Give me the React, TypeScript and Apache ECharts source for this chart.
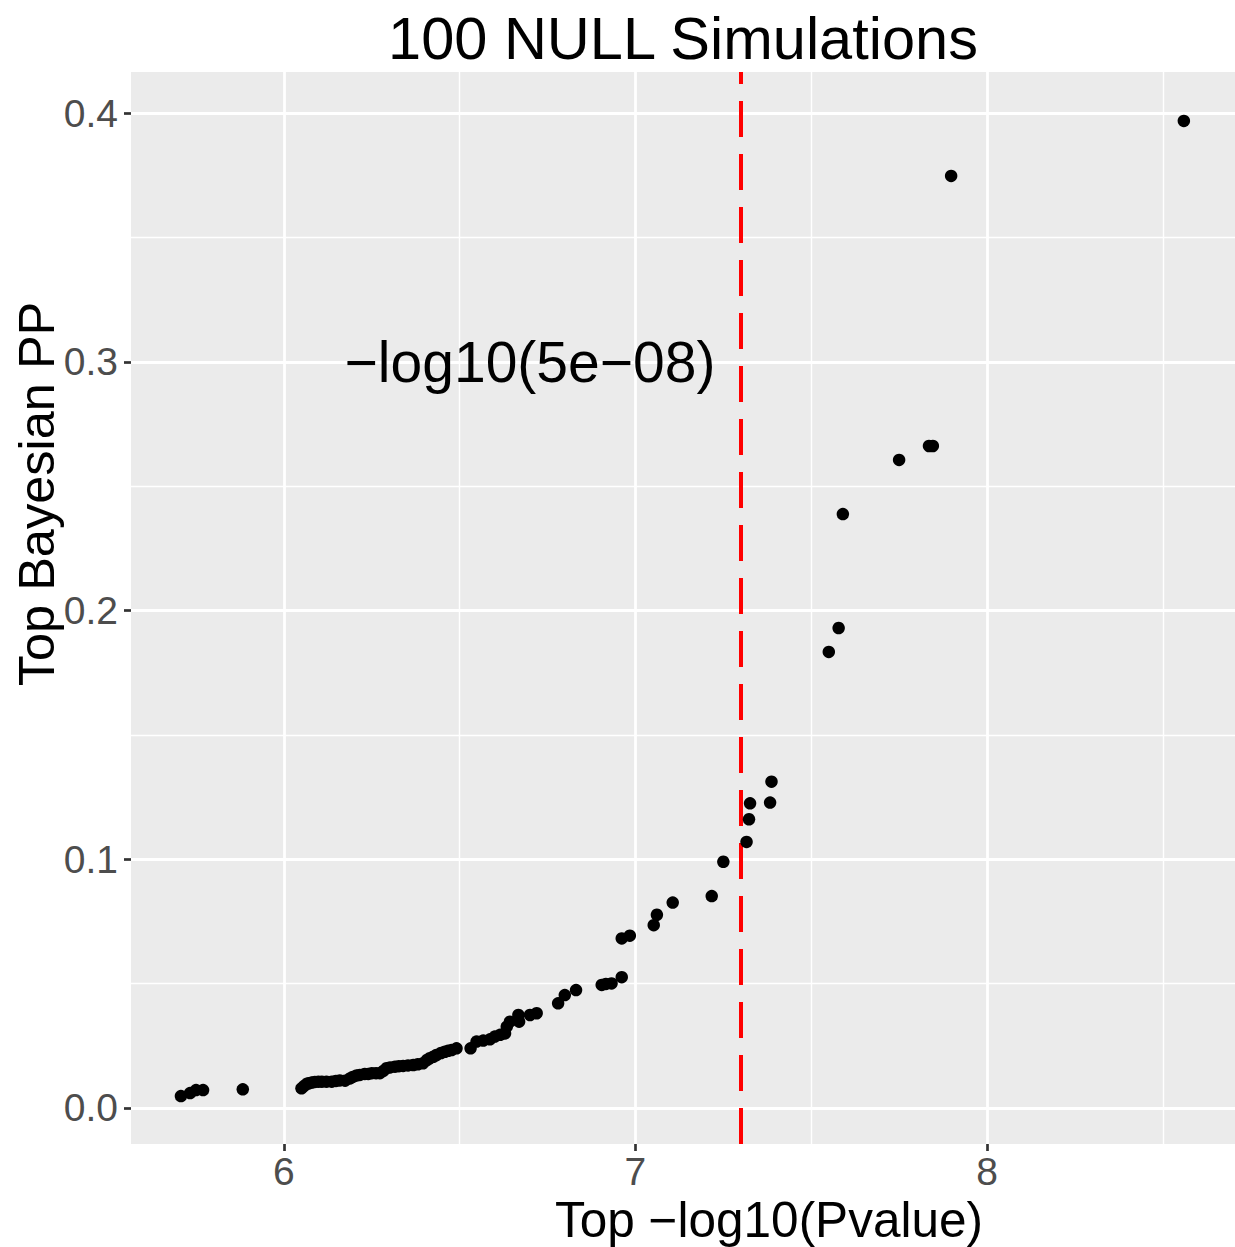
import React, { useEffect, useRef } from "react";
import * as echarts from "echarts";

const TITLE = "100 NULL Simulations";
const X_TITLE = "Top \u2212log10(Pvalue)";
const Y_TITLE = "Top Bayesian PP";
const ANNOT_TEXT = "\u2212log10(5e\u221208)";
const ANNOT_POS = [6.7, 0.3];
const THRESHOLD = 7.30103;

const X_MIN = 5.565;
const X_MAX = 8.7055;
const Y_MIN = -0.01448;
const Y_MAX = 0.41657;

const X_TICKS = [6, 7, 8];
const X_MINOR = [6.5, 7.5, 8.5];
const Y_TICKS = [0, 0.1, 0.2, 0.3, 0.4];
const Y_MINOR = [0.05, 0.15, 0.25, 0.35];

const PVAL = [
  5.707, 5.733, 5.75, 5.77, 5.883,
  6.05, 6.057, 6.065, 6.071, 6.079, 6.088, 6.098, 6.108, 6.121, 6.136,
  6.148, 6.159, 6.174, 6.188, 6.196, 6.207, 6.216, 6.23, 6.24, 6.25,
  6.262, 6.273, 6.283, 6.292, 6.302, 6.316, 6.327, 6.339, 6.353, 6.368,
  6.381, 6.396, 6.407, 6.415, 6.425, 6.434, 6.447, 6.458, 6.467, 6.477, 6.491,
  6.531, 6.548, 6.567, 6.586, 6.6, 6.615, 6.629, 6.634, 6.643, 6.667,
  6.669, 6.7, 6.719, 6.78, 6.799, 6.831, 6.904, 6.916, 6.932, 6.961,
  6.961, 6.984, 7.052, 7.061, 7.106, 7.217, 7.25, 7.316, 7.323, 7.326,
  7.383, 7.387, 7.55, 7.578, 7.59, 7.75, 7.835, 7.846, 7.898, 8.56,
];
const PP = [
  0.0048, 0.006, 0.0072, 0.0072, 0.0075,
  0.0079, 0.0088, 0.0097, 0.0099, 0.0102, 0.0105, 0.0106, 0.0106, 0.0106, 0.0106,
  0.0109, 0.0111, 0.011, 0.0119, 0.0125, 0.0131, 0.0133, 0.0137, 0.0137, 0.014,
  0.014, 0.014, 0.0149, 0.016, 0.0163, 0.0166, 0.0168, 0.0169, 0.0171, 0.0173,
  0.0176, 0.018, 0.0193, 0.02, 0.0206, 0.0213, 0.0221, 0.0226, 0.023, 0.0233, 0.024,
  0.024, 0.0267, 0.0271, 0.0276, 0.0287, 0.0294, 0.03, 0.0327, 0.0347, 0.0374,
  0.0347, 0.0374, 0.0381, 0.0421, 0.0454, 0.0474, 0.0495, 0.0499, 0.0501, 0.0526,
  0.0682, 0.0693, 0.0735, 0.0777, 0.0826, 0.0852, 0.099, 0.107, 0.1161, 0.1225,
  0.1228, 0.1312, 0.1834, 0.193, 0.2388, 0.2606, 0.2662, 0.2662, 0.3748, 0.3969,
];

const FONT = "'Liberation Sans', Arial, Helvetica, sans-serif";

export default function App() {
  const ref = useRef<HTMLDivElement>(null);

  useEffect(() => {
    if (!ref.current) return;
    const chart = echarts.init(ref.current, undefined, { renderer: "svg" });

    const major = { color: "#FFFFFF", width: 2.8, type: "solid", opacity: 1 };
    const minor = { color: "#FFFFFF", width: 1.4, type: "solid", opacity: 1 };
    const gridData: any[] = [
      ...X_MINOR.map((v) => ({ xAxis: v, lineStyle: minor })),
      ...Y_MINOR.map((v) => ({ yAxis: v, lineStyle: minor })),
      ...X_TICKS.map((v) => ({ xAxis: v, lineStyle: major })),
      ...Y_TICKS.map((v) => ({ yAxis: v, lineStyle: major })),
    ];

    const labelStyle = {
      fontSize: 39,
      color: "#4D4D4D",
      fontFamily: FONT,
    };

    chart.setOption({
      animation: false,
      backgroundColor: "#FFFFFF",
      grid: {
        left: 131,
        right: 0,
        top: 72,
        bottom: 1247 - 1144,
        show: true,
        backgroundColor: "#EBEBEB",
        borderWidth: 0,
        containLabel: false,
      },
      xAxis: {
        type: "value",
        min: X_MIN,
        max: X_MAX,
        axisLine: { show: false, onZero: false },
        axisTick: {
          show: true,
          customValues: X_TICKS,
          length: 7,
          lineStyle: { color: "#333333", width: 2.7 },
        },
        axisLabel: {
          ...labelStyle,
          customValues: X_TICKS,
          margin: 8,
          formatter: (v: number) => String(v),
        },
        splitLine: { show: false },
      },
      yAxis: {
        type: "value",
        min: Y_MIN,
        max: Y_MAX,
        axisLine: { show: false, onZero: false },
        axisTick: {
          show: true,
          customValues: Y_TICKS,
          length: 7,
          lineStyle: { color: "#333333", width: 2.7 },
        },
        axisLabel: {
          ...labelStyle,
          customValues: Y_TICKS,
          margin: 13,
          formatter: (v: number) => v.toFixed(1),
        },
        splitLine: { show: false },
      },
      series: [
        {
          type: "scatter",
          name: "grid",
          data: [],
          silent: true,
          z: 1,
          markLine: {
            silent: true,
            z: 1,
            symbol: ["none", "none"],
            label: { show: false },
            animation: false,
            data: gridData,
          },
        },
        {
          type: "scatter",
          name: "threshold",
          data: [],
          silent: true,
          z: 2,
          markLine: {
            silent: true,
            z: 2,
            symbol: ["none", "none"],
            label: { show: false },
            animation: false,
            lineStyle: { color: "#FF0000", width: 4, type: [36, 17], opacity: 1 },
            data: [{ xAxis: THRESHOLD }],
          },
        },
        {
          type: "scatter",
          name: "points",
          z: 3,
          symbol: "circle",
          symbolSize: 12.5,
          itemStyle: { color: "#000000", opacity: 1 },
          data: PVAL.map((x, i) => [x, PP[i]]),
        },
        {
          type: "scatter",
          name: "annotation",
          z: 4,
          symbolSize: 0,
          itemStyle: { opacity: 1 },
          data: [ANNOT_POS],
          label: {
            show: true,
            position: "inside",
            formatter: ANNOT_TEXT,
            fontSize: 57,
            color: "#000000",
            opacity: 1,
            fontFamily: FONT,
          },
        },
      ],
      graphic: [
        {
          type: "text",
          x: 683,
          y: 38,
          style: {
            text: TITLE,
            fontSize: 59.5,
            fill: "#000000",
            fontFamily: FONT,
            align: "center",
            verticalAlign: "middle",
          },
        },
        {
          type: "text",
          x: 769,
          y: 1219,
          style: {
            text: X_TITLE,
            fontSize: 49.5,
            fill: "#000000",
            fontFamily: FONT,
            align: "center",
            verticalAlign: "middle",
          },
        },
        {
          type: "text",
          x: 36,
          y: 494,
          rotation: Math.PI / 2,
          style: {
            text: Y_TITLE,
            fontSize: 50.5,
            fill: "#000000",
            fontFamily: FONT,
            align: "center",
            verticalAlign: "middle",
          },
        },
      ],
    });

    return () => chart.dispose();
  }, []);

  return (
    <div
      ref={ref}
      style={{ position: "fixed", left: 0, top: 0, width: 1235, height: 1247 }}
    />
  );
}
